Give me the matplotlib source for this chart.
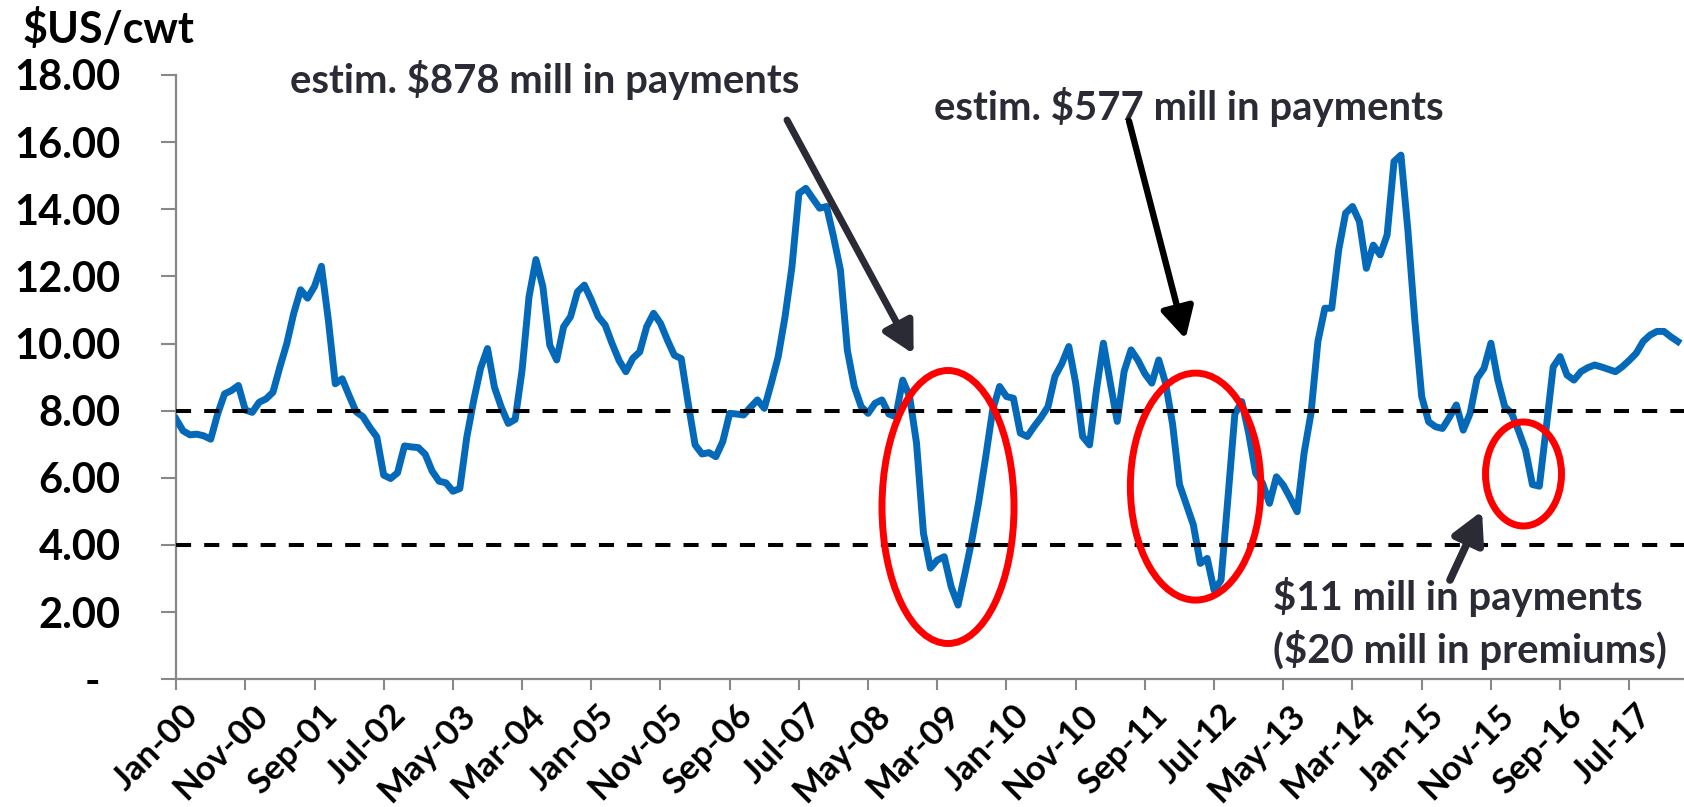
import numpy as np
import matplotlib
matplotlib.use("Agg")
import matplotlib.pyplot as plt
from matplotlib.patches import Ellipse
from matplotlib.transforms import ScaledTranslation

plt.rcParams["font.family"] = ["Lato", "DejaVu Sans"]
plt.rcParams["font.weight"] = "bold"

# monthly margin from Jan-00, $US/cwt
margin = [
    7.75, 7.40, 7.28, 7.30, 7.25, 7.15, 7.90, 8.50, 8.60, 8.75,   # 2000
    8.02, 7.95, 8.25, 8.35, 8.55, 9.30, 10.0, 10.9, 11.6, 11.35,
    11.7, 12.3, 10.7, 8.80, 8.95, 8.45, 7.97, 7.82, 7.50, 7.22,
    6.08, 5.98, 6.15, 6.95, 6.92, 6.90, 6.70, 6.20, 5.90, 5.85,
    5.60, 5.68, 7.20, 8.30, 9.26, 9.85, 8.70, 8.10, 7.62, 7.74,
    9.21, 11.39, 12.5, 11.69, 9.95, 9.51, 10.5, 10.8, 11.54, 11.74,
    11.3, 10.8, 10.55, 10.0, 9.50, 9.16, 9.56, 9.75, 10.5, 10.9,
    10.6, 10.1, 9.65, 9.55, 8.22, 6.98, 6.71, 6.75, 6.63, 7.08,
    7.92, 7.90, 7.87, 8.10, 8.32, 8.07, 8.81, 9.60, 10.8, 12.29,
    14.47, 14.62, 14.32, 14.03, 14.08, 13.18, 12.19, 9.80, 8.72, 8.12,
    7.92, 8.22, 8.32, 7.90, 7.82, 8.91, 8.42, 7.03, 4.35, 3.31,
    3.55, 3.65, 2.76, 2.21, 3.16, 4.15, 5.30, 6.63, 8.02, 8.72,
    8.42, 8.37, 7.33, 7.23, 7.53, 7.80, 8.12, 9.02, 9.40, 9.91,
    8.82, 7.23, 6.98, 8.62, 10.01, 8.82, 7.68, 9.17, 9.81, 9.50,
    9.10, 8.82, 9.51, 8.81, 7.60, 5.80, 5.20, 4.60, 3.45, 3.60,
    2.65, 2.95, 5.40, 7.90, 8.27, 7.33, 6.14, 5.84, 5.24, 6.03,
    5.78, 5.40, 4.99, 6.73, 7.92, 10.06, 11.05, 11.05, 12.78, 13.88,
    14.08, 13.63, 12.24, 12.93, 12.64, 13.23, 15.42, 15.61, 13.38, 10.7,
    8.42, 7.67, 7.52, 7.47, 7.80, 8.17, 7.42, 7.92, 8.96, 9.26,
    10.01, 8.91, 8.12, 7.92, 7.40, 6.83, 5.80, 5.75, 7.50, 9.30,
    9.61, 9.06, 8.91, 9.16, 9.28, 9.36, 9.30, 9.23, 9.16, 9.31,
    9.50, 9.71, 10.06, 10.25, 10.36, 10.36, 10.20, 10.06,
]
tick_labels = ["Jan-00", "Nov-00", "Sep-01", "Jul-02", "May-03", "Mar-04",
               "Jan-05", "Nov-05", "Sep-06", "Jul-07", "May-08", "Mar-09",
               "Jan-10", "Nov-10", "Sep-11", "Jul-12", "May-13", "Mar-14",
               "Jan-15", "Nov-15", "Sep-16", "Jul-17"]
y_ticks = [0, 2, 4, 6, 8, 10, 12, 14, 16, 18]
y_labels = ["-  ", "2.00", "4.00", "6.00", "8.00", "10.00", "12.00",
            "14.00", "16.00", "18.00"]
bands = [8.0, 4.0]

W, H, DPI = 1684, 807, 100
X0, Y0 = 176.1, 679.3          # pixel of (Jan-00, 0)
PXM, PXU = 6.92, 33.58         # px per month, px per $

def dx(px):
    return (px - X0) / PXM

def dy(py):
    return (Y0 - py) / PXU

fig = plt.figure(figsize=(W / DPI, H / DPI), dpi=DPI)
ax = fig.add_axes([X0 / W, 1 - Y0 / H, (W - X0) / W, 18 * PXU / H])

x = np.arange(len(margin))
ax.plot(x, margin, color="#0569B9", lw=5.0, solid_joinstyle="round", zorder=3)
for b in bands:
    ax.axhline(b, color="black", lw=2.9, dashes=(3.75, 3.25), zorder=4)

ax.set_xlim(0, (W - X0) / PXM)
ax.set_ylim(0, 18)
for s in ["top", "right"]:
    ax.spines[s].set_visible(False)
for s in ["left", "bottom"]:
    ax.spines[s].set_color("#888888")
    ax.spines[s].set_linewidth(1.6)

ax.set_xticks(np.arange(len(tick_labels)) * 10)
ax.set_xticklabels(tick_labels, rotation=45, ha="right", rotation_mode="anchor",
                   fontsize=25, fontweight="bold")
ax.set_yticks(y_ticks)
ax.set_yticklabels(y_labels, fontsize=30, fontweight="bold")
ax.tick_params(axis="x", length=8, width=1.5, color="#888888", pad=6)
ax.tick_params(axis="y", length=11, width=1.5, color="#888888", pad=29)
# nudge the slanted month labels a little to the right, as in the original
shift = ScaledTranslation(6 / DPI, 0, fig.dpi_scale_trans)
for lbl in ax.get_xticklabels():
    lbl.set_transform(lbl.get_transform() + shift)

fig.text(23 / W, 1 - 43 / H, "$US/cwt", fontsize=31, fontweight="bold",
         ha="left", va="baseline")

txt = "#2B2B36"
ax.text(dx(290), dy(80), "estim. $878 mill in payments", color=txt,
        fontsize=28.8, fontweight="bold", va="center", ha="left")
ax.text(dx(934), dy(107), "estim. $577 mill in payments", color=txt,
        fontsize=28.8, fontweight="bold", va="center", ha="left")
ax.text(dx(1273), dy(597), "$11 mill in payments", color=txt,
        fontsize=28.8, fontweight="bold", va="center", ha="left")
ax.text(dx(1273), dy(650), "($20 mill in premiums)", color=txt,
        fontsize=28.8, fontweight="bold", va="center", ha="left")

arrows = [((787, 120), (913.6, 354), txt, 5.0),
          ((1129, 121), (1185.5, 339), "black", 4.6),
          ((1450, 580), (1482, 511), txt, 5.5)]
for (tx, ty), (hx, hy), c, lw in arrows:
    ax.annotate("", xy=(dx(hx), dy(hy)), xytext=(dx(tx), dy(ty)),
                arrowprops=dict(arrowstyle="-|>,head_length=0.75,head_width=0.4",
                                color=c, lw=lw, mutation_scale=25,
                                shrinkA=0, shrinkB=0),
                zorder=6, annotation_clip=False)

ellipses = [(948, 507, 132, 273), (1195.6, 486.6, 130.5, 227),
            (1523.5, 474, 76, 104)]
for cx, cy, w, h in ellipses:
    ax.add_patch(Ellipse((dx(cx), dy(cy)), w / PXM, h / PXU, fill=False,
                         edgecolor="#FF0000", lw=5, zorder=5))

fig.savefig("out.png", dpi=DPI)
